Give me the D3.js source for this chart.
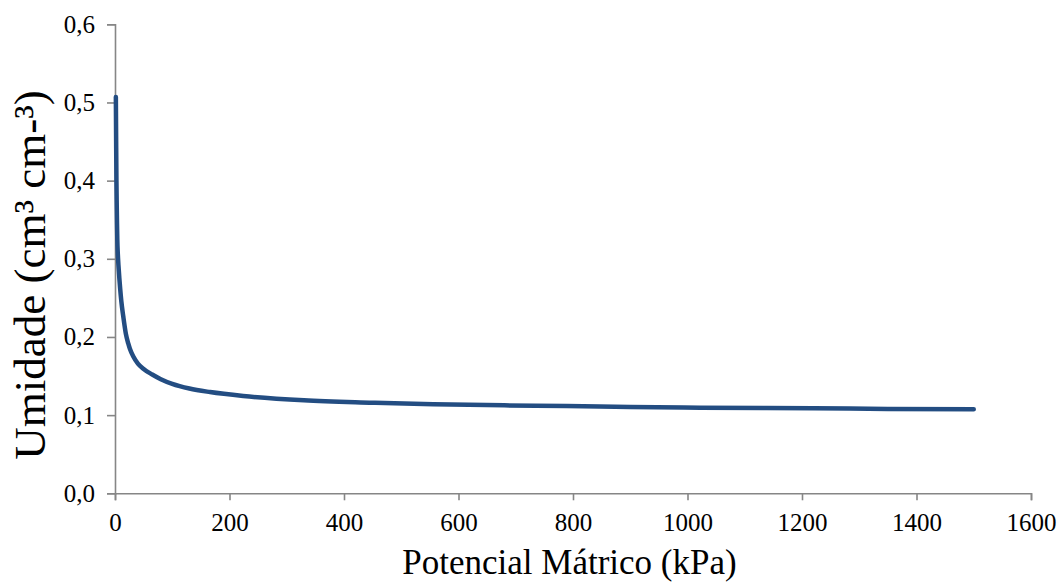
<!DOCTYPE html>
<html>
<head>
<meta charset="utf-8">
<script src="https://cdn.jsdelivr.net/npm/d3@7"></script>
<style>
  html, body { margin: 0; padding: 0; background: #fff; }
  svg { display: block; }
</style>
</head>
<body>
<svg id="chart" width="1061" height="584"></svg>
<script>
// Data
const potencial = [1.5, 2, 2.5, 3, 3.5, 4, 5, 6, 7.5, 9, 11, 14.5, 19, 23, 26, 32, 40, 50, 65, 80, 100, 130, 166, 224, 330, 450, 556, 680, 789, 900, 1022, 1220, 1350, 1500];
const umidade   = [0.507, 0.45, 0.40, 0.37, 0.345, 0.325, 0.305, 0.292, 0.276, 0.262, 0.246, 0.226, 0.204, 0.192, 0.185, 0.175, 0.166, 0.159, 0.152, 0.146, 0.140, 0.134, 0.1295, 0.1245, 0.119, 0.116, 0.1139, 0.1125, 0.1117, 0.1105, 0.1095, 0.1087, 0.108, 0.1075];
const xTicks = [0, 200, 400, 600, 800, 1000, 1200, 1400, 1600];
const yTicks = [0, 0.1, 0.2, 0.3, 0.4, 0.5, 0.6];
const xTitle = "Potencial Mátrico (kPa)";
const yTitle = "Umidade (cm³ cm-³)";

const svg = d3.select("#chart");
const mLeft = 115, mRight = 1031, mTop = 24.3, mBottom = 493.3;

const x = d3.scaleLinear().domain([0, 1600]).range([mLeft, mRight]);
const y = d3.scaleLinear().domain([0, 0.6]).range([mBottom, mTop]);

const axisColor = "#868686";
const font = "'Liberation Serif', 'Times New Roman', serif";

// X axis
const gx = svg.append("g").attr("transform", `translate(0,${mBottom})`)
  .call(d3.axisBottom(x).tickValues(xTicks).tickSize(7).tickPadding(13).tickFormat(d3.format("d")));
// Y axis
const gy = svg.append("g").attr("transform", `translate(${mLeft},0)`)
  .call(d3.axisLeft(y).tickValues(yTicks).tickSize(8).tickPadding(12)
    .tickFormat(d => d3.format(".1f")(d).replace(".", ",")));

[gx, gy].forEach(g => {
  g.attr("font-family", font);
  g.select(".domain").attr("stroke", axisColor).attr("stroke-width", 1.6);
  g.selectAll(".tick line").attr("stroke", axisColor).attr("stroke-width", 1.6);
  g.selectAll(".tick text").attr("fill", "#000").style("font-family", font).style("font-size", "25px");
});

// Curve
const pts = potencial.map((p, i) => [p, umidade[i]]);
svg.append("path")
  .datum(pts)
  .attr("fill", "none")
  .attr("stroke", "#234d82")
  .attr("stroke-width", 4.5)
  .attr("stroke-linecap", "round")
  .attr("stroke-linejoin", "round")
  .attr("d", d3.line().x(d => x(d[0])).y(d => y(d[1])).curve(d3.curveMonotoneX));

// Titles
svg.append("text")
  .attr("x", 569.5)
  .attr("y", 574)
  .attr("text-anchor", "middle")
  .style("font-family", font)
  .style("font-size", "35px")
  .attr("fill", "#000")
  .text(xTitle);

svg.append("text")
  .attr("transform", `translate(45,275) rotate(-90)`)
  .attr("text-anchor", "middle")
  .style("font-family", font)
  .style("font-size", "45px")
  .attr("fill", "#000")
  .text(yTitle);
</script>
</body>
</html>
